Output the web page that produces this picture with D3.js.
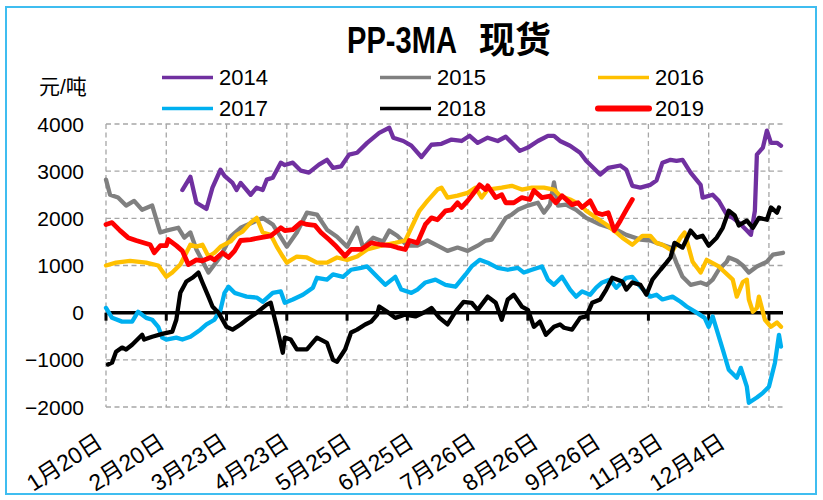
<!DOCTYPE html>
<html>
<head>
<meta charset="utf-8">
<script src="https://cdn.jsdelivr.net/npm/d3@7"></script>
<style>
  body { margin: 0; background: #fff; }
  text { font-family: "Liberation Sans", "Noto Sans CJK SC", sans-serif; }
</style>
</head>
<body>
<svg id="chart" width="823" height="500"></svg>
<script>
// Category axis: one point per trading day starting 1月20日.
// Labels every 31 points, vertical gridlines every 30 points.
const tickLabels = ["1月20日", "2月20日", "3月23日", "4月23日", "5月25日", "6月25日",
                    "7月26日", "8月26日", "9月26日", "11月3日", "12月4日"];
const labelEvery = 31;
const gridEvery = 30;
const lastDay = 337;
const yTicks = [-2000, -1000, 0, 1000, 2000, 3000, 4000];

const years = ["2014", "2015", "2016", "2017", "2018", "2019"];
const yearColors = ["#7030a0", "#808080", "#ffc000", "#00b0f0", "#000000", "#ff0000"];

// PP minus 3×MA spot spread, 元/吨, as [day, value]
const s2014 = [[38,2600],[42,2880],[45,2330],[50,2200],[53,2650],[57,3030],[59,2900],[63,2750],[65,2600],[67,2750],
  [72,2500],[75,2650],[78,2600],[80,2820],[83,2860],[87,3180],[89,3130],[93,3180],[97,3010],[101,2970],
  [106,3140],[110,3240],[113,3070],[117,3100],[121,3350],[125,3390],[130,3600],[136,3810],[141,3920],[143,3710],
  [148,3640],[152,3540],[157,3300],[162,3560],[167,3580],[172,3670],[177,3640],[181,3750],[185,3600],[190,3710],
  [195,3640],[199,3730],[202,3600],[206,3430],[210,3500],[215,3640],[220,3750],[223,3750],[226,3640],[231,3540],
  [236,3390],[239,3220],[246,2930],[250,3070],[256,3120],[259,3030],[262,2690],[266,2650],[271,2710],[274,2800],
  [277,3180],[281,3240],[284,3220],[287,3240],[291,2970],[296,2710],[297,2440],[302,2500],[305,2370],[309,2080],
  [312,2010],[315,1910],[319,1740],[321,1650],[323,2160],[324,3350],[327,3500],[329,3860],[331,3600],[334,3600],[336,3540]];

const s2015 = [[0,2820],[2,2500],[6,2440],[10,2270],[14,2370],[18,2180],[23,2270],[27,1700],[30,1740],[36,1800],
  [39,1590],[42,1700],[45,1340],[51,850],[57,1190],[62,1610],[67,1800],[73,1910],[78,2010],[83,1870],
  [90,1400],[95,1700],[100,2120],[105,2080],[110,1760],[115,1610],[120,1400],[125,1800],[128,1380],[133,1590],
  [138,1510],[141,1740],[145,1630],[150,1420],[155,1420],[160,1530],[165,1420],[170,1310],[175,1380],[180,1310],
  [185,1420],[189,1530],[192,1550],[195,1740],[199,2010],[202,2080],[205,2180],[210,2270],[215,2330],[218,2120],
  [221,2290],[223,2760],[225,2270],[229,2290],[234,2180],[239,2010],[246,1870],[254,1760],[259,1650],[266,1550],
  [271,1530],[274,1480],[281,1380],[284,1050],[287,760],[291,590],[296,640],[299,590],[302,700],[305,910],
  [309,1080],[310,1170],[314,1100],[317,1000],[320,850],[324,980],[329,1080],[332,1230],[337,1270]];

const s2016 = [[0,1000],[5,1060],[12,1100],[20,1060],[26,1000],[30,760],[33,850],[37,1020],[42,1440],[45,1400],
  [48,1440],[51,1190],[54,1270],[57,1400],[62,1510],[65,1650],[68,1720],[72,1910],[75,2010],[78,1700],
  [82,1650],[85,1400],[88,1190],[90,1060],[95,1190],[100,1170],[105,1060],[110,1060],[115,1170],[120,1120],
  [125,1190],[130,1340],[137,1420],[144,1480],[149,1530],[152,1800],[156,2160],[160,2370],[165,2610],[167,2650],
  [170,2440],[175,2480],[180,2540],[184,2650],[187,2440],[190,2610],[197,2650],[202,2690],[207,2610],[212,2650],
  [218,2650],[223,2610],[226,2480],[231,2400],[236,2290],[239,2160],[244,2010],[249,1870],[254,1700],[257,1590],
  [262,1440],[267,1630],[271,1630],[274,1480],[277,1440],[282,1310],[286,1590],[288,1700],[292,1080],[296,850],
  [299,1120],[305,980],[312,700],[314,340],[317,650],[319,700],[320,280],[322,20],[324,100],[325,340],
  [328,-150],[331,-300],[334,-210],[336,-300]];

const s2017 = [[0,100],[3,-110],[8,-190],[13,-190],[16,20],[20,-110],[23,-150],[26,-300],[28,-530],[30,-570],
  [35,-530],[38,-570],[42,-510],[47,-360],[50,-250],[54,-150],[57,60],[59,420],[61,550],[64,420],
  [67,380],[70,340],[75,320],[78,230],[83,420],[87,450],[89,210],[93,280],[98,380],[103,530],
  [105,740],[110,700],[113,810],[118,760],[122,910],[127,950],[130,980],[135,760],[139,590],[144,760],
  [147,490],[152,420],[155,490],[159,640],[164,700],[169,590],[174,550],[179,810],[182,980],[186,1120],
  [190,1060],[195,950],[200,910],[205,950],[208,850],[212,910],[217,980],[220,700],[223,590],[227,760],
  [231,490],[234,340],[237,450],[241,380],[244,530],[247,640],[251,700],[254,530],[259,740],[262,760],
  [266,550],[271,340],[274,380],[277,280],[282,340],[286,230],[289,130],[294,0],[298,-110],[300,-300],
  [302,-80],[304,-360],[307,-780],[310,-1210],[314,-1380],[316,-1170],[319,-1570],[320,-1910],[324,-1800],[327,-1700],
  [330,-1570],[333,-1060],[335,-470],[336,-720]];

const s2018 = [[1,-1100],[3,-1060],[5,-830],[8,-740],[10,-780],[13,-680],[18,-470],[19,-570],[23,-510],[28,-450],
  [33,-400],[35,-150],[37,420],[40,660],[43,740],[46,850],[48,640],[51,340],[53,130],[56,0],
  [60,-300],[63,-360],[67,-250],[70,-150],[75,0],[80,170],[82,210],[85,-300],[88,-850],[89,-530],
  [92,-570],[95,-780],[100,-780],[105,-530],[110,-640],[113,-1000],[115,-1040],[119,-780],[122,-420],[125,-360],
  [129,-250],[132,-190],[135,-40],[136,130],[140,20],[144,-110],[149,-40],[154,-80],[159,20],[162,100],
  [166,-110],[170,-250],[174,20],[178,230],[182,210],[185,60],[190,340],[194,210],[197,-150],[200,280],
  [203,380],[207,130],[210,60],[213,-300],[216,-190],[219,-470],[223,-300],[226,-250],[228,-320],[232,-360],
  [236,-110],[239,-80],[242,210],[246,280],[249,490],[252,740],[257,660],[259,490],[262,640],[266,590],
  [269,380],[272,700],[276,910],[279,1060],[281,1170],[283,1480],[287,1380],[291,1740],[294,1590],[297,1630],
  [300,1420],[304,1590],[307,1800],[310,2160],[313,2060],[315,1850],[319,1950],[322,1800],[325,2010],[329,1970],
  [331,2230],[334,2120],[335,2230]];

const s2019 = [[0,1870],[3,1910],[7,1740],[11,1590],[15,1530],[22,1440],[24,1270],[27,1420],[30,1420],[31,1550],
  [35,1420],[38,1310],[41,1020],[45,1120],[48,1100],[52,1170],[54,1120],[58,1270],[61,1170],[64,1310],
  [67,1530],[72,1550],[77,1590],[82,1630],[87,1800],[89,1740],[93,1760],[97,1910],[100,1870],[104,1850],
  [107,1700],[111,1550],[114,1430],[119,1200],[122,1340],[127,1340],[132,1480],[137,1440],[142,1420],[145,1380],
  [149,1340],[151,1530],[155,1480],[159,1870],[162,2010],[165,1970],[169,2160],[172,2180],[175,2330],[177,2230],
  [180,2370],[184,2590],[186,2710],[189,2610],[190,2690],[194,2440],[197,2500],[199,2330],[203,2330],[207,2440],
  [211,2400],[213,2590],[217,2440],[221,2470],[224,2330],[227,2480],[232,2290],[235,2330],[237,2230],[241,2370],
  [244,2120],[247,2080],[250,2120],[253,1740],[256,1950],[259,2180],[262,2400]];

const seriesData = [s2014, s2015, s2016, s2017, s2018, s2019];

const svg = d3.select("#chart");
const x = d3.scaleLinear().domain([0, lastDay]).range([106, 783]);
const y = d3.scaleLinear().domain([-2000, 4000]).range([407, 124]);

// outer frame
svg.append("rect")
  .attr("x", 6).attr("y", 7).attr("width", 810).attr("height", 487)
  .attr("fill", "#fff").attr("stroke", "#3fbdf0").attr("stroke-width", 2);

// title: the Latin part is squeezed horizontally into a condensed look
const titleLatin = svg.append("text")
  .attr("font-family", "'Noto Sans CJK SC', sans-serif")
  .attr("font-weight", "bold").attr("font-size", 37)
  .text("PP-3MA");
const latinWidth = titleLatin.node().getComputedTextLength();
titleLatin.attr("transform", `translate(347,53) scale(${110 / latinWidth},1)`);
svg.append("text")
  .attr("x", 479).attr("y", 53)
  .attr("font-family", "'Noto Sans CJK SC', sans-serif")
  .attr("font-weight", "bold").attr("font-size", 36)
  .text("现货");

// unit label
svg.append("text")
  .attr("x", 39).attr("y", 94)
  .attr("font-family", "'Noto Sans CJK SC', sans-serif")
  .attr("font-size", 21)
  .text("元/吨");

// gridlines
const grid = svg.append("g")
  .attr("stroke", "#a6a6a6").attr("stroke-width", 1.3).attr("stroke-dasharray", "5,3.5").attr("fill", "none");
grid.selectAll("line.h").data(yTicks.filter(v => v !== 0)).join("line")
  .attr("x1", x(0)).attr("x2", x(lastDay))
  .attr("y1", d => y(d)).attr("y2", d => y(d));
grid.selectAll("line.v").data(d3.range(0, lastDay, gridEvery)).join("line")
  .attr("x1", d => x(d)).attr("x2", d => x(d))
  .attr("y1", y(4000)).attr("y2", y(-2000));

// zero axis with tick marks
svg.append("line")
  .attr("x1", x(0)).attr("x2", x(lastDay))
  .attr("y1", y(0)).attr("y2", y(0))
  .attr("stroke", "#000").attr("stroke-width", 3.5);
svg.append("g").selectAll("line").data(d3.range(0, lastDay, gridEvery)).join("line")
  .attr("x1", d => x(d)).attr("x2", d => x(d))
  .attr("y1", y(0)).attr("y2", y(0) + 8)
  .attr("stroke", "#000").attr("stroke-width", 3);

// y tick labels
const fmt = d3.format("d");
svg.append("g").selectAll("text").data(yTicks).join("text")
  .attr("x", 84).attr("y", d => y(d))
  .attr("dy", "0.36em")
  .attr("text-anchor", "end")
  .attr("font-size", 21)
  .text(d => fmt(d));

// x tick labels
svg.append("g").selectAll("text").data(tickLabels).join("text")
  .attr("transform", (d, i) => `translate(${x(i * labelEvery) - 2},446) rotate(-33)`)
  .attr("text-anchor", "end")
  .attr("font-size", 23)
  .text(d => d);

// series lines
const line = d3.line().x(d => x(d[0])).y(d => y(d[1]));
svg.append("g").selectAll("path").data(seriesData).join("path")
  .attr("d", d => line(d))
  .attr("fill", "none")
  .attr("stroke", (d, i) => yearColors[i])
  .attr("stroke-width", (d, i) => i === 5 ? 4.8 : 4.3)
  .attr("stroke-linejoin", "round")
  .attr("stroke-linecap", "round");

// legend: three columns, two rows
const legendCols = [162, 380, 598];
const legendRows = [85, 116];
const legend = svg.append("g").selectAll("g").data(years).join("g")
  .attr("transform", (d, i) => `translate(${legendCols[i % 3]},${legendRows[Math.floor(i / 3)]})`);
legend.append("line")
  .attr("x1", 0).attr("x2", 51).attr("y1", -7.5).attr("y2", -7.5)
  .attr("stroke", (d, i) => yearColors[i])
  .attr("stroke-width", (d, i) => i === 5 ? 6 : 3.5)
  .attr("stroke-linecap", (d, i) => i === 5 ? "round" : "butt");
legend.append("text")
  .attr("x", 57).attr("y", 0)
  .attr("font-size", 22)
  .text(d => d);
</script>
</body>
</html>
